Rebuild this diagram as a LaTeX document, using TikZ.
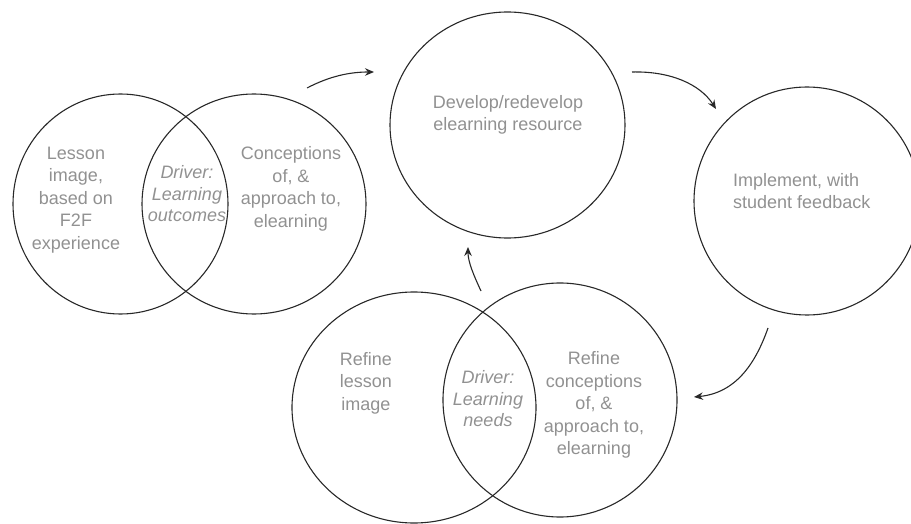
\documentclass[tikz,border=0pt]{standalone}
\usepackage{fontspec}
\setmainfont{Liberation Sans}
\usetikzlibrary{shapes.geometric,arrows.meta}
\definecolor{txt}{RGB}{145,145,145}
\definecolor{ln}{RGB}{40,40,40}
\begin{document}
\begin{tikzpicture}[x=1pt,y=-1pt,
  ring/.style={ellipse, draw=ln, line width=1.1pt, inner sep=0pt},
  lbl/.style={text=txt, align=center, font=\fontsize{18}{22.5}\selectfont, inner sep=0pt},
  drv/.style={lbl, font=\fontsize{18}{21.5}\selectfont\itshape},
  flow/.style={draw=ln, line width=1.1pt, -{Stealth[length=9pt,width=7.5pt,inset=3pt]}}]
\useasboundingbox (0,0) rectangle (911,524);
\clip (0,0) rectangle (911,524);
% circles
\node[ring, minimum width=215pt, minimum height=220pt] (A) at (120.5,204) {};
\node[ring, minimum width=224pt, minimum height=220pt] (B) at (254,204) {};
\node[ring, minimum width=235pt, minimum height=226pt] (C) at (507.5,125) {};
\node[ring, minimum width=226pt, minimum height=228pt] (D) at (807,201) {};
\node[ring, minimum width=244pt, minimum height=231pt] (E) at (414,407.5) {};
\node[ring, minimum width=234pt, minimum height=234pt] (F) at (560,400) {};
% texts
\node[lbl] (tA) at (76,200) {Lesson\\image,\\based on\\F2F\\experience};
\node[drv] (tAB) at (187,194) {Driver:\\Learning\\outcomes};
\node[lbl] (tB) at (291,189) {Conceptions\\of, \&\\approach to,\\elearning};
\node[lbl] (tC) at (508,115) {Develop/redevelop\\elearning resource};
\node[lbl, align=left, anchor=west] (tD) at (733,191) {Implement, with\\student feedback};
\node[lbl] (tE) at (366,383) {Refine\\lesson\\image};
\node[drv] (tEF) at (488,399) {Driver:\\Learning\\needs};
\node[lbl] (tF) at (594,405) {Refine\\conceptions\\of, \&\\approach to,\\elearning};
% arrow ends
\coordinate (a1s) at (307,88);  \coordinate (a1e) at (374,72);
\coordinate (a2s) at (632,72);  \coordinate (a2e) at (716,109);
\coordinate (a3s) at (768,328); \coordinate (a3e) at (694,397);
\coordinate (a4s) at (481,291); \coordinate (a4e) at (468,247);
% arrows
\draw[flow] (a1s) .. controls (330,76) and (350,72) .. (a1e);
\draw[flow] (a2s) .. controls (670,71) and (700,84) .. (a2e);
\draw[flow] (a3s) .. controls (755,365) and (735,393) .. (a3e);
\draw[flow] (a4s) .. controls (474,276) and (468,262) .. (a4e);
\end{tikzpicture}
\end{document}
